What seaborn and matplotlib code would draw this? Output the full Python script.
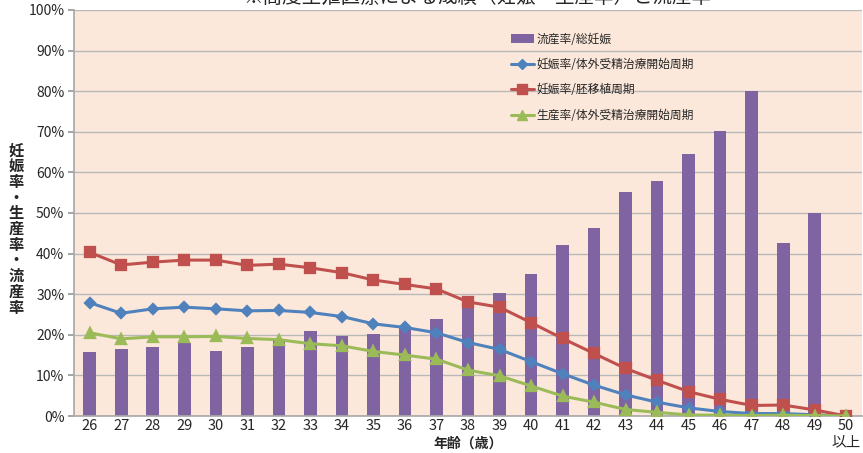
import numpy as np
import pandas as pd
import matplotlib
matplotlib.use("Agg")
import matplotlib.pyplot as plt
import seaborn as sns
from matplotlib.patches import Patch
from matplotlib.lines import Line2D

sns.set_theme(style="white")
plt.rcParams['font.family'] = ['Noto Sans CJK JP', 'DejaVu Sans']

ages = ["26", "27", "28", "29", "30", "31", "32", "33", "34", "35", "36", "37", "38",
        "39", "40", "41", "42", "43", "44", "45", "46", "47", "48", "49", "50\n以上"]
miscarriage = [15.7, 16.6, 17.0, 18.1, 16.1, 17.1, 18.7, 20.9, 19.7, 20.1, 21.9, 23.8, 28.3,
               30.2, 35.0, 42.1, 46.3, 55.1, 57.9, 64.6, 70.2, 80.0, 42.7, 50.0, 0.0]
preg_ivf = [27.9, 25.3, 26.4, 26.8, 26.4, 25.9, 26.0, 25.5, 24.5, 22.7, 21.8, 20.5, 18.1,
            16.4, 13.4, 10.4, 7.6, 5.2, 3.4, 2.0, 1.1, 0.6, 0.6, 0.3, 0.0]
preg_et = [40.3, 37.2, 37.9, 38.4, 38.4, 37.1, 37.4, 36.5, 35.3, 33.5, 32.4, 31.3, 28.1,
           26.8, 23.0, 19.1, 15.4, 11.7, 8.8, 6.0, 4.1, 2.6, 2.7, 1.5, 0.0]
birth_ivf = [20.5, 19.0, 19.5, 19.5, 19.6, 19.1, 18.8, 17.8, 17.3, 15.9, 15.0, 14.0, 11.3,
             9.9, 7.4, 4.9, 3.4, 1.6, 0.9, 0.25, 0.2, 0.1, 0.2, 0.1, 0.0]

labels = ["流産率/総妊娠", "妊娠率/体外受精治療開始周期", "妊娠率/胚移植周期", "生産率/体外受精治療開始周期"]
title = "※高度生殖医療による成績（妊娠・生産率）と流産率"
ylabel = "妊娠率・生産率・流産率"
xlabel = "年齢（歳）"

c_bar = "#8064A2"
c_blue = "#4F81BD"
c_red = "#C0504D"
c_green = "#9BBB59"
bg = "#FCE8DA"

df = pd.DataFrame({"age": ages, "m": miscarriage, "pi": preg_ivf, "pe": preg_et, "bi": birth_ivf})

fig = plt.figure(figsize=(8.63, 4.53), dpi=100)
ax = fig.add_axes([74 / 863, 1 - 416 / 453, 788 / 863, 406 / 453])
ax.set_facecolor(bg)

sns.barplot(data=df, x="age", y="m", color=c_bar, width=0.4, saturation=1, ax=ax,
            zorder=2, linewidth=0, edgecolor="none")
sns.pointplot(data=df, x="age", y="pi", color=c_blue, markers="D", markersize=5,
              linewidth=2.2, ax=ax, zorder=3)
sns.pointplot(data=df, x="age", y="pe", color=c_red, markers="s", markersize=7,
              linewidth=2.2, ax=ax, zorder=3)
sns.pointplot(data=df, x="age", y="bi", color=c_green, markers="^", markersize=7,
              linewidth=2.2, ax=ax, zorder=3)

ax.set_ylim(0, 100)
ax.set_xlim(-0.5, len(ages) - 0.5)
ax.set_yticks(np.arange(0, 101, 10))
ax.set_yticklabels([f"{v}%" for v in range(0, 101, 10)], fontsize=10)
ax.tick_params(axis="x", labelsize=10.5, pad=2, length=0)
ax.tick_params(axis="y", length=4, color="#999999", left=True, pad=3)
ax.yaxis.grid(True, color="#B8B8B8", linewidth=1)
ax.set_axisbelow(True)
for s in ["top", "right"]:
    ax.spines[s].set_visible(False)
ax.spines["left"].set_color("#AAAAAA")
ax.spines["bottom"].set_color("#AAAAAA")
ax.set_xlabel("")
ax.set_ylabel("")

handles = [
    Patch(facecolor=c_bar, edgecolor="none"),
    Line2D([], [], color=c_blue, marker="D", markersize=5, linewidth=2.2),
    Line2D([], [], color=c_red, marker="s", markersize=7, linewidth=2.2),
    Line2D([], [], color=c_green, marker="^", markersize=7, linewidth=2.2),
]
ax.legend(handles, labels, loc="upper left", bbox_to_anchor=(500 / 863, 1 - 22 / 453),
          bbox_transform=fig.transFigure, frameon=False, fontsize=8.5,
          labelspacing=1.05, handlelength=2.0, handletextpad=0.2)

fig.text(477 / 863, 1 + 3 / 453, title, ha="center", va="center", fontsize=14)
fig.text(16 / 863, 1 - 229 / 453, "\n".join(ylabel), ha="center", va="center",
         fontsize=11, fontweight="bold", linespacing=0.98)
fig.text(468 / 863, 1 - 444 / 453, xlabel, ha="center", va="center",
         fontsize=10, fontweight="bold")

fig.savefig("out.png", dpi=100, facecolor="white")
